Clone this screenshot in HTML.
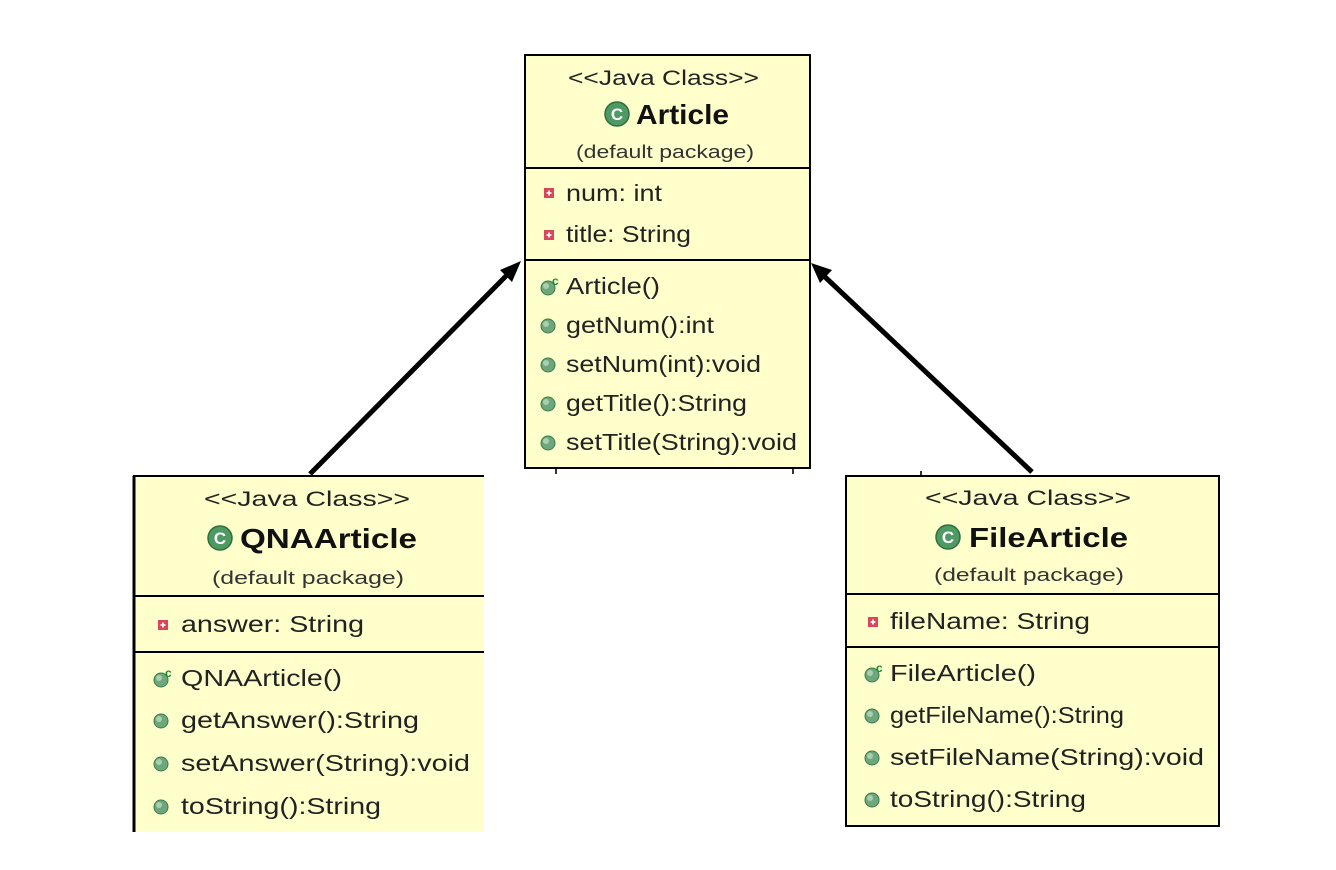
<!DOCTYPE html>
<html><head><meta charset="utf-8"><style>
html,body{margin:0;padding:0;background:#fff;width:1336px;height:870px;overflow:hidden}
text{font-family:"Liberation Sans",Arial,sans-serif;fill:#222}
.st{font-size:21px}.ti{font-size:28px;font-weight:bold;fill:#111}.pk{font-size:18px;fill:#333}.m{font-size:23px}
</style></head><body>
<svg width="1336" height="870" viewBox="0 0 1336 870" xmlns="http://www.w3.org/2000/svg">
<defs>
<g id="pub"><circle r="7" fill="#6ea77b" stroke="#3d7a4c" stroke-width="1"/><circle cx="-2" cy="-2" r="3" fill="#a8d0b0"/></g>
<g id="priv"><rect x="-5" y="-5" width="10" height="10" fill="#d9455a"/><rect x="-2.5" y="-0.8" width="5" height="1.6" fill="#fff"/><rect x="-0.8" y="-2.5" width="1.6" height="5" fill="#fff"/></g>
<g id="ctor"><use href="#pub"/><text x="4" y="-3" style="font-size:12px;font-weight:bold;fill:#1d8a2e">c</text></g>
<g id="cls"><circle r="12" fill="#4e9a62" stroke="#2f6e40" stroke-width="1.5"/><text x="0" y="6" text-anchor="middle" style="font-size:17px;font-weight:bold;fill:#fff">C</text></g>
</defs>

<g stroke="#000" stroke-width="5">
<line x1="310" y1="474" x2="508" y2="274"/>
<line x1="1032" y1="472" x2="824" y2="276"/>
</g>
<polygon points="521,261 500,270 512,282" fill="#000"/>
<polygon points="811,263 820,283 832,270" fill="#000"/>
<g stroke="#333" stroke-width="2">
<line x1="556" y1="468" x2="556" y2="474"/>
<line x1="793" y1="468" x2="793" y2="474"/>
<line x1="921" y1="471" x2="921" y2="476"/>
</g>

<!-- Article -->
<rect x="525" y="55" width="285" height="413" fill="#ffffcc" stroke="#000" stroke-width="2"/>
<line x1="525" y1="168" x2="810" y2="168" stroke="#000" stroke-width="2"/>
<line x1="525" y1="260" x2="810" y2="260" stroke="#000" stroke-width="2"/>
<text class="st" x="568" y="85" textLength="191" lengthAdjust="spacingAndGlyphs">&lt;&lt;Java Class&gt;&gt;</text>
<use href="#cls" x="617" y="114"/>
<text class="ti" x="636" y="124" textLength="93" lengthAdjust="spacingAndGlyphs">Article</text>
<text class="pk" x="576" y="158" textLength="178" lengthAdjust="spacingAndGlyphs">(default package)</text>
<use href="#priv" x="549" y="193"/><text class="m" x="566" y="201" textLength="96" lengthAdjust="spacingAndGlyphs">num: int</text>
<use href="#priv" x="549" y="235"/><text class="m" x="566" y="242" textLength="125" lengthAdjust="spacingAndGlyphs">title: String</text>
<use href="#ctor" x="548" y="288"/><text class="m" x="566" y="294" textLength="94" lengthAdjust="spacingAndGlyphs">Article()</text>
<use href="#pub" x="548" y="326"/><text class="m" x="566" y="333" textLength="148" lengthAdjust="spacingAndGlyphs">getNum():int</text>
<use href="#pub" x="548" y="365"/><text class="m" x="566" y="372" textLength="195" lengthAdjust="spacingAndGlyphs">setNum(int):void</text>
<use href="#pub" x="548" y="404"/><text class="m" x="566" y="411" textLength="181" lengthAdjust="spacingAndGlyphs">getTitle():String</text>
<use href="#pub" x="548" y="443"/><text class="m" x="566" y="450" textLength="231" lengthAdjust="spacingAndGlyphs">setTitle(String):void</text>

<!-- QNAArticle -->
<rect x="133" y="476" width="351" height="356" fill="#ffffcc"/>
<line x1="133" y1="476" x2="484" y2="476" stroke="#000" stroke-width="2"/>
<line x1="134" y1="476" x2="134" y2="832" stroke="#000" stroke-width="3"/>
<line x1="133" y1="596" x2="484" y2="596" stroke="#000" stroke-width="2"/>
<line x1="133" y1="652" x2="484" y2="652" stroke="#000" stroke-width="2"/>
<text class="st" x="204" y="506" textLength="206" lengthAdjust="spacingAndGlyphs">&lt;&lt;Java Class&gt;&gt;</text>
<use href="#cls" x="220" y="538"/>
<text class="ti" x="240" y="548" textLength="177" lengthAdjust="spacingAndGlyphs">QNAArticle</text>
<text class="pk" x="212" y="584" textLength="192" lengthAdjust="spacingAndGlyphs">(default package)</text>
<use href="#priv" x="163" y="625"/><text class="m" x="181" y="632" textLength="183" lengthAdjust="spacingAndGlyphs">answer: String</text>
<use href="#ctor" x="161" y="680"/><text class="m" x="181" y="686" textLength="161" lengthAdjust="spacingAndGlyphs">QNAArticle()</text>
<use href="#pub" x="161" y="721"/><text class="m" x="181" y="728" textLength="238" lengthAdjust="spacingAndGlyphs">getAnswer():String</text>
<use href="#pub" x="161" y="764"/><text class="m" x="181" y="771" textLength="289" lengthAdjust="spacingAndGlyphs">setAnswer(String):void</text>
<use href="#pub" x="161" y="807"/><text class="m" x="181" y="814" textLength="200" lengthAdjust="spacingAndGlyphs">toString():String</text>

<!-- FileArticle -->
<rect x="846" y="476" width="373" height="350" fill="#ffffcc" stroke="#000" stroke-width="2"/>
<line x1="846" y1="594" x2="1219" y2="594" stroke="#000" stroke-width="2"/>
<line x1="846" y1="647" x2="1219" y2="647" stroke="#000" stroke-width="2"/>
<text class="st" x="925" y="505" textLength="206" lengthAdjust="spacingAndGlyphs">&lt;&lt;Java Class&gt;&gt;</text>
<use href="#cls" x="948" y="537"/>
<text class="ti" x="969" y="547" textLength="159" lengthAdjust="spacingAndGlyphs">FileArticle</text>
<text class="pk" x="934" y="581" textLength="190" lengthAdjust="spacingAndGlyphs">(default package)</text>
<use href="#priv" x="873" y="622"/><text class="m" x="890" y="629" textLength="200" lengthAdjust="spacingAndGlyphs">fileName: String</text>
<use href="#ctor" x="872" y="675"/><text class="m" x="890" y="681" textLength="146" lengthAdjust="spacingAndGlyphs">FileArticle()</text>
<use href="#pub" x="872" y="716"/><text class="m" x="890" y="723" textLength="234" lengthAdjust="spacingAndGlyphs">getFileName():String</text>
<use href="#pub" x="872" y="758"/><text class="m" x="890" y="765" textLength="314" lengthAdjust="spacingAndGlyphs">setFileName(String):void</text>
<use href="#pub" x="872" y="800"/><text class="m" x="890" y="807" textLength="196" lengthAdjust="spacingAndGlyphs">toString():String</text>
</svg>
</body></html>
